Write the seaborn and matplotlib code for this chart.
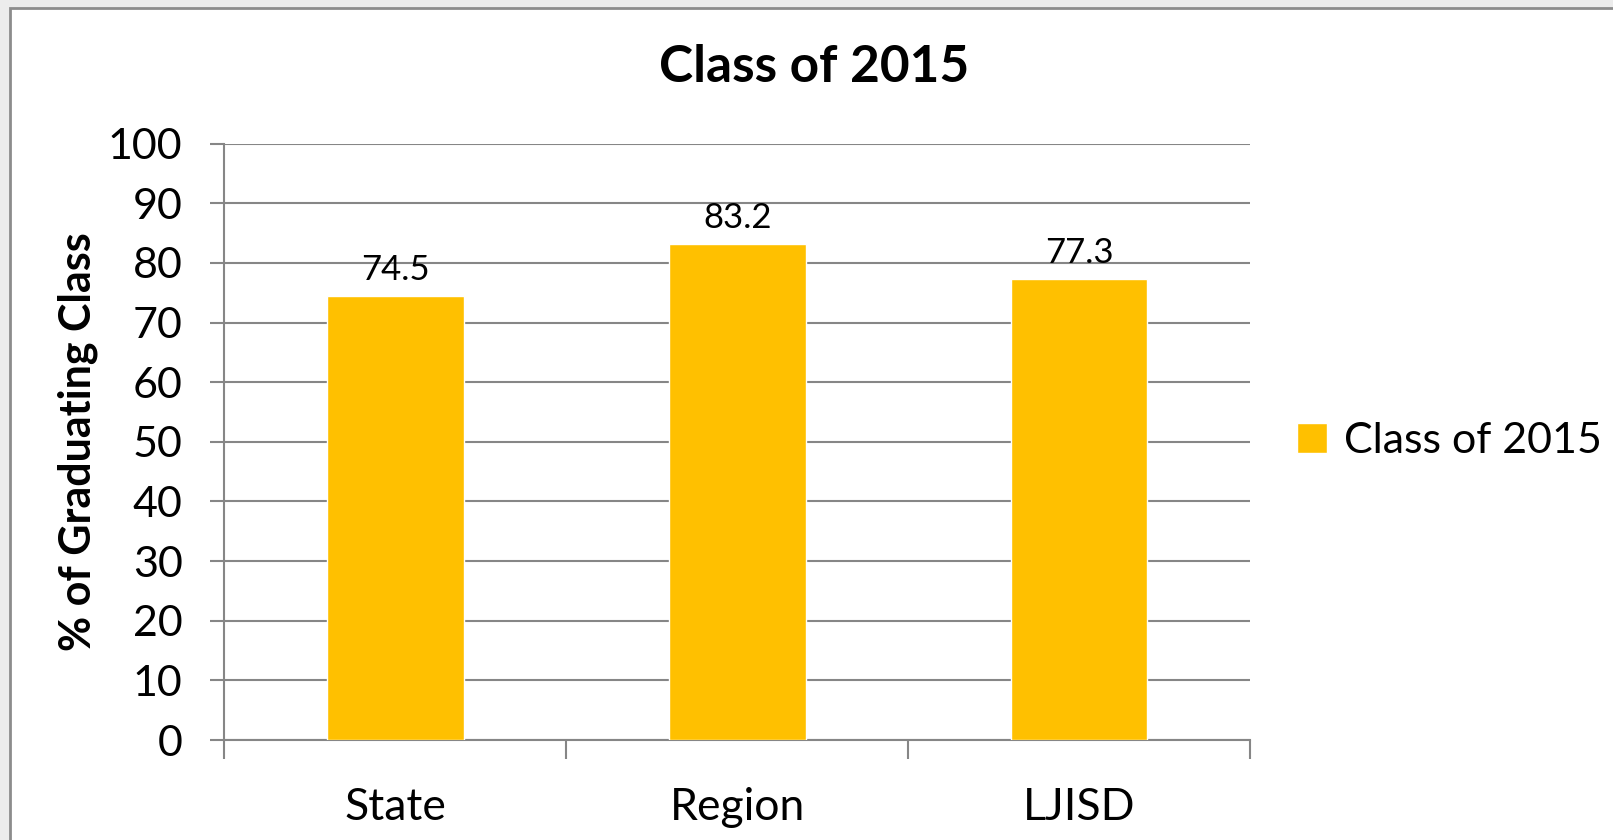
import matplotlib
matplotlib.use("Agg")
import matplotlib.pyplot as plt
import seaborn as sns
from matplotlib.patches import Rectangle

categories = ["State", "Region", "LJISD"]
values = [74.5, 83.2, 77.3]
series_name = "Class of 2015"
yticks = [0, 10, 20, 30, 40, 50, 60, 70, 80, 90, 100]

bar_color = "#FFC000"
grid_color = "#868686"

sns.set_style("white")
plt.rcParams["font.family"] = ["Lato", "DejaVu Sans"]
plt.rcParams["text.color"] = "black"
plt.rcParams["axes.labelcolor"] = "black"
plt.rcParams["xtick.color"] = "black"
plt.rcParams["ytick.color"] = "black"

fig = plt.figure(figsize=(16.13, 8.4), dpi=100)
fig.patch.set_facecolor("#ececec")

# white chart panel with grey border
panel = Rectangle((10 / 1613, -0.05), 1.1, 1.05 - 8 / 840,
                  transform=fig.transFigure, facecolor="white",
                  edgecolor="#8c8c8c", linewidth=2, zorder=-5)
fig.patches.append(panel)

ax = fig.add_axes([0.139, 0.119, 0.636, 0.71])
ax.set_facecolor("white")

sns.barplot(x=categories, y=values, color=bar_color, width=0.4,
            saturation=1, label=series_name, ax=ax, zorder=3)

ax.bar_label(ax.containers[0], fmt="%.1f", padding=7, fontsize=25)

ax.set_ylim(0, 100)
ax.set_xlim(-0.5, 2.5)
ax.set_yticks(yticks)
ax.yaxis.grid(True, color=grid_color, linewidth=1.5, zorder=0)
ax.set_axisbelow(True)

for side in ["top", "right"]:
    ax.spines[side].set_visible(False)
for side in ["left", "bottom"]:
    ax.spines[side].set_color(grid_color)
    ax.spines[side].set_linewidth(1.5)

ax.tick_params(axis="y", left=True, length=10, width=1.5, color=grid_color,
               labelsize=31, pad=20)
ax.tick_params(axis="x", which="major", length=0, labelsize=32, pad=34)
ax.set_xticks([-0.5, 0.5, 1.5, 2.5], minor=True)
ax.tick_params(axis="x", which="minor", bottom=True, length=14, width=1.5,
               color=grid_color)

ax.set_ylabel("% of Graduating Class", fontsize=31, fontweight="bold", labelpad=7)
ax.set_xlabel("")
fig.suptitle("Class of 2015", fontsize=37, fontweight="bold", x=0.505, y=0.948)

ax.legend(loc="center left", bbox_to_anchor=(0.78, 0.475), bbox_transform=fig.transFigure,
          frameon=False, fontsize=31, handlelength=0.7, handleheight=0.7,
          handletextpad=0.4)

fig.savefig("out.png", dpi=100, facecolor=fig.get_facecolor())
